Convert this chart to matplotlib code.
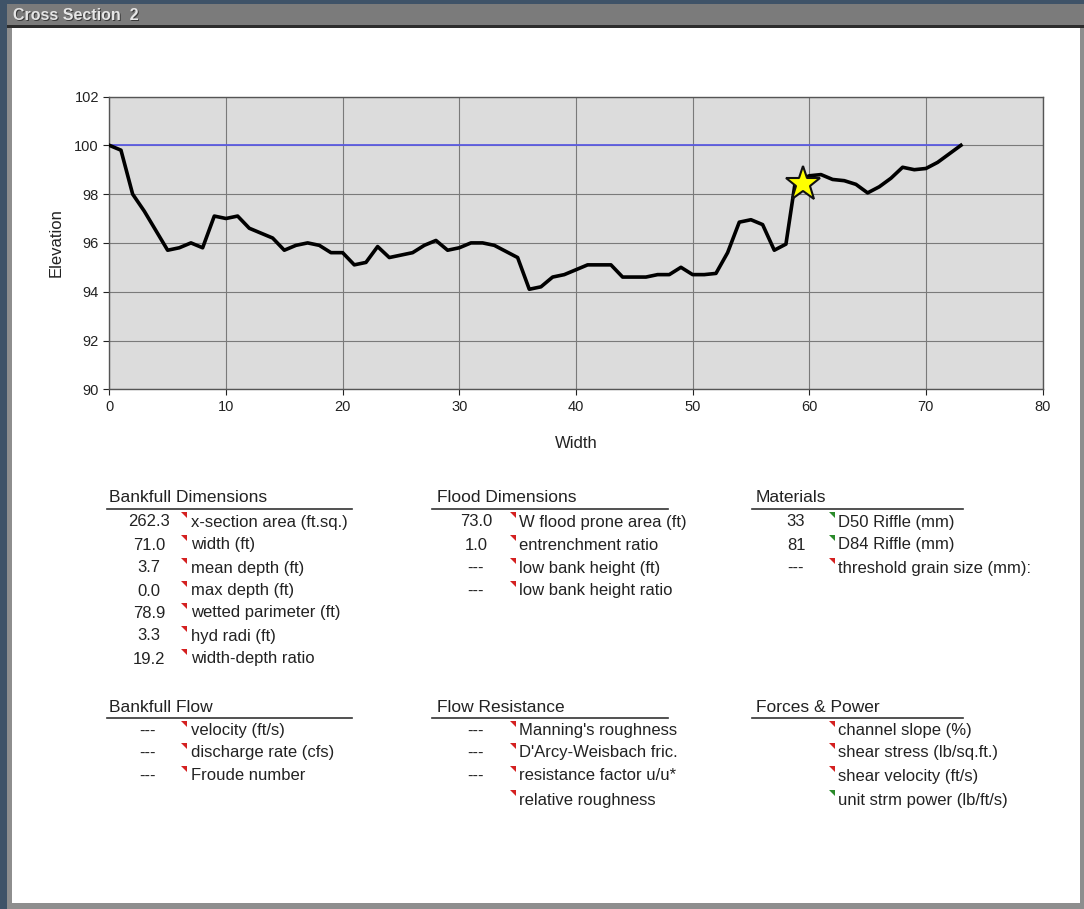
import matplotlib.pyplot as plt
from matplotlib.patches import Rectangle, Polygon

plt.rcParams['font.family'] = ['Liberation Sans', 'DejaVu Sans']

# cross section survey: station (ft) and elevation (ft)
station = [0, 1, 2, 3, 4, 5, 6, 7, 8, 9, 10, 11, 12, 13, 14, 15, 16, 17, 18, 19,
           20, 21, 22, 23, 24, 25, 26, 27, 28, 29, 30, 31, 32, 33, 34, 35, 36, 37,
           38, 39, 40, 41, 42, 43, 44, 45, 46, 47, 48, 49, 50, 51, 52, 53, 54, 55,
           56, 57, 58, 58.8, 60, 61, 62, 63, 64, 65, 66, 67, 68, 69, 70, 71, 72, 73]
elevation = [100.0, 99.8, 98.0, 97.3, 96.5, 95.7, 95.8, 96.0, 95.8, 97.1, 97.0,
             97.1, 96.6, 96.4, 96.2, 95.7, 95.9, 96.0, 95.9, 95.6, 95.6, 95.1,
             95.2, 95.85, 95.4, 95.5, 95.6, 95.9, 96.1, 95.7, 95.8, 96.0, 96.0,
             95.9, 95.65, 95.4, 94.1, 94.2, 94.6, 94.7, 94.9, 95.1, 95.1, 95.1,
             94.6, 94.6, 94.6, 94.7, 94.7, 95.0, 94.7, 94.7, 94.75, 95.6, 96.85,
             96.95, 96.75, 95.7, 95.95, 98.5, 98.75, 98.8, 98.6, 98.55, 98.4,
             98.05, 98.3, 98.65, 99.1, 99.0, 99.05, 99.3, 99.65, 100.0]
bankfull_x = [0, 73]
bankfull_elev = [100.0, 100.0]
bkf_point_x = [59.5]
bkf_point_elev = [98.4]

# summary tables: (value, label, comment-flag colour)
bankfull_dims = [("262.3", "x-section area (ft.sq.)", "r"),
                 ("71.0", "width (ft)", "r"),
                 ("3.7", "mean depth (ft)", "r"),
                 ("0.0", "max depth (ft)", "r"),
                 ("78.9", "wetted parimeter (ft)", "r"),
                 ("3.3", "hyd radi (ft)", "r"),
                 ("19.2", "width-depth ratio", "r")]
flood_dims = [("73.0", "W flood prone area (ft)", "r"),
              ("1.0", "entrenchment ratio", "r"),
              ("---", "low bank height (ft)", "r"),
              ("---", "low bank height ratio", "r")]
materials = [("33", "D50 Riffle (mm)", "g"),
             ("81", "D84 Riffle (mm)", "g"),
             ("---", "threshold grain size (mm):", "r")]
bankfull_flow = [("---", "velocity (ft/s)", "r"),
                 ("---", "discharge rate (cfs)", "r"),
                 ("---", "Froude number", "r")]
flow_resistance = [("---", "Manning's roughness", "r"),
                   ("---", "D'Arcy-Weisbach fric.", "r"),
                   ("---", "resistance factor u/u*", "r"),
                   ("", "relative roughness", "r")]
forces_power = [("", "channel slope (%)", "r"),
                ("", "shear stress (lb/sq.ft.)", "r"),
                ("", "shear velocity (ft/s)", "r"),
                ("", "unit strm power (lb/ft/s)", "g")]

W, H = 1084, 909
fig = plt.figure(figsize=(W / 100, H / 100), dpi=100, facecolor='white')

# window frame drawn in pixel units
bg = fig.add_axes([0, 0, 1, 1])
bg.set_xlim(0, W)
bg.set_ylim(H, 0)
bg.axis('off')
bg.add_patch(Rectangle((0, 0), W, 4, color='#3f5368', lw=0))
bg.add_patch(Rectangle((0, 0), 7, H, color='#3f5368', lw=0))
bg.add_patch(Rectangle((7, 4), W - 7, 22, color='#7b7b7b', lw=0))
bg.add_patch(Rectangle((7, 25), W - 7, 3, color='#2c2c2c', lw=0))
bg.add_patch(Rectangle((7, 28), 5, H - 28, color='#8e8e8e', lw=0))
bg.add_patch(Rectangle((1080, 28), 4, H - 28, color='#8e8e8e', lw=0))
bg.add_patch(Rectangle((7, 903), W - 7, 6, color='#8e8e8e', lw=0))
bg.text(14, 16.5, "Cross Section  2", fontsize=11.5, fontweight='bold',
        color='#3a3a3a', va='center', ha='left')
bg.text(13, 15.5, "Cross Section  2", fontsize=11.5, fontweight='bold',
        color='#e6e6e6', va='center', ha='left')


def draw_table(title, rows, x_head, y_head, x_line, x_val, x_flag, x_lab, row_y):
    bg.text(x_head, y_head, title, fontsize=12.5, color='#222222', va='center', ha='left')
    bg.plot(x_line, [y_head + 11, y_head + 11], color='#333333', lw=1.2)
    colors = {'r': '#d42020', 'g': '#2a8a2a'}
    for (val, lab, flag), y in zip(rows, row_y):
        if val:
            bg.text(x_val, y, val, fontsize=12, color='#222222', va='center', ha='center')
        bg.add_patch(Polygon([(x_flag - 2, y - 10), (x_flag + 4, y - 10), (x_flag + 4, y - 4)],
                             closed=True, color=colors[flag], lw=0))
        bg.text(x_lab, y, lab, fontsize=12, color='#222222', va='center', ha='left')


rows_top = [522, 545, 568, 591, 613, 636, 659]
rows_bot = [731, 753, 776, 800]
draw_table("Bankfull Dimensions", bankfull_dims, 109, 498, [107, 352], 149, 183, 191, rows_top)
draw_table("Flood Dimensions", flood_dims, 437, 498, [432, 668], 476, 512, 519, rows_top)
draw_table("Materials", materials, 756, 498, [752, 963], 796, 831, 838, rows_top)
draw_table("Bankfull Flow", bankfull_flow, 109, 707, [107, 352], 148, 183, 191, rows_bot)
draw_table("Flow Resistance", flow_resistance, 437, 707, [432, 668], 476, 512, 519, rows_bot)
draw_table("Forces & Power", forces_power, 756, 707, [752, 963], 796, 831, 838, rows_bot)

# cross section chart
ax = fig.add_axes([109.3 / W, 1 - 389.3 / H, (1042.6 - 109.3) / W, (389.3 - 96.5) / H])
ax.set_facecolor('#dcdcdc')
ax.plot(bankfull_x, bankfull_elev, color='#5c5ce2', lw=1.3, zorder=3)
ax.plot(station, elevation, color='black', lw=2.6, zorder=4)
ax.plot(bkf_point_x, bkf_point_elev, marker='*', markersize=26, color='#ffff00',
        markeredgecolor='#111111', markeredgewidth=1.5, zorder=5)
ax.set_xlim(0, 80)
ax.set_ylim(90, 102)
ax.set_xticks(range(0, 81, 10))
ax.set_yticks(range(90, 103, 2))
ax.grid(True, color='#7a7a7a', lw=0.8)
ax.set_axisbelow(True)
for s in ax.spines.values():
    s.set_color('#555555')
    s.set_linewidth(1.0)
ax.tick_params(labelsize=10.5, colors='#222222', length=4, width=0.8)
ax.set_xlabel("Width", fontsize=12, color='#222222', labelpad=16)
ax.set_ylabel("Elevation", fontsize=12, color='#222222', labelpad=8)

fig.savefig('out.png', dpi=100, facecolor='white')
